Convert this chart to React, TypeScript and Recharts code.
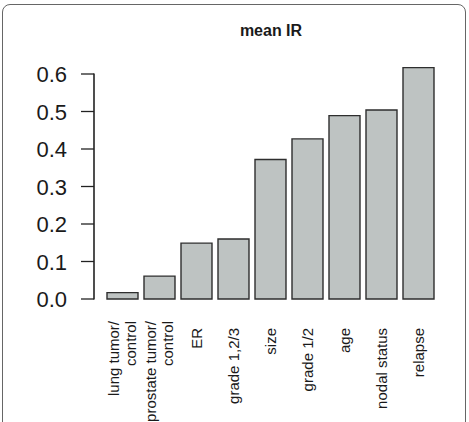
import { BarChart, Bar, XAxis, YAxis } from 'recharts';

const categories = [
  'lung tumor/\ncontrol',
  'prostate tumor/\ncontrol',
  'ER',
  'grade 1,2/3',
  'size',
  'grade 1/2',
  'age',
  'nodal status',
  'relapse',
];
const meanIR = [0.017, 0.061, 0.149, 0.16, 0.372, 0.427, 0.489, 0.504, 0.617];
const yTicks = [0, 0.1, 0.2, 0.3, 0.4, 0.5, 0.6];
const yTickLabels = ['0.0', '0.1', '0.2', '0.3', '0.4', '0.5', '0.6'];

const Y_MAX = 0.64;
const TICK_LEN = 13;
const TICK_GAP = 14;
const CHART_W = 469;
const CHART_H = 422;
const MARGIN = { top: 59, right: 22, bottom: 23, left: 0 };
const X_AXIS_H = 100;
const Y_AXIS_W = 94;
const X_PAD = 10;
const PLOT_H = CHART_H - MARGIN.top - MARGIN.bottom - X_AXIS_H;
const FONT = '"Liberation Sans", Arial, Helvetica, sans-serif';

// R-style y spine only runs from the first to the last tick
const SPINE_X = MARGIN.left + Y_AXIS_W;
const SPINE_TOP = MARGIN.top + ((Y_MAX - yTicks[yTicks.length - 1]) / Y_MAX) * PLOT_H;
const SPINE_BOTTOM = MARGIN.top + ((Y_MAX - yTicks[0]) / Y_MAX) * PLOT_H;

const data = categories.map((name, i) => ({ name, value: meanIR[i] }));

function YTick(props: any) {
  const { x, y, index } = props;
  return (
    <text x={x} y={y} dy={8} textAnchor="end" fontSize={22} fill="#1a1a1a" fontFamily={FONT}>
      {yTickLabels[index]}
    </text>
  );
}

// rotated category labels, multi-line ones split on \n
function XTick(props: any) {
  const { x, y, payload } = props;
  const lines = String(payload.value).split('\n');
  const top = y + (lines.length > 1 ? 22 : 29);
  return (
    <g>
      {lines.map((line, i) => {
        const cx = x + (i - (lines.length - 1) / 2) * 17 + 5;
        return (
          <text
            key={i}
            x={0}
            y={0}
            transform={`translate(${cx},${top}) rotate(-90)`}
            textAnchor="end"
            fontSize={15}
            fill="#1a1a1a"
            fontFamily={FONT}
          >
            {line}
          </text>
        );
      })}
    </g>
  );
}

export default function App() {
  return (
    <div style={{ position: 'absolute', left: 0, top: 0, width: CHART_W, height: CHART_H, overflow: 'hidden', background: '#fff' }}>
      <div
        style={{
          position: 'absolute',
          left: 2,
          top: 4,
          width: 462,
          height: 470,
          border: '1.5px solid #666',
          borderRadius: 8,
        }}
      />
      <div
        style={{
          position: 'absolute',
          left: 0,
          top: 22,
          width: CHART_W,
          textAlign: 'center',
          paddingLeft: 73,
          boxSizing: 'border-box',
          fontFamily: FONT,
          fontWeight: 'bold',
          fontSize: 16,
          color: '#1a1a1a',
        }}
      >
        mean IR
      </div>
      <BarChart
        width={CHART_W}
        height={CHART_H}
        data={data}
        margin={MARGIN}
        style={{ position: 'absolute', left: 0, top: 0 }}
      >
        <XAxis
          dataKey="name"
          interval={0}
          padding={{ left: X_PAD, right: X_PAD }}
          axisLine={false}
          tickLine={false}
          tickSize={0}
          tickMargin={0}
          height={X_AXIS_H}
          tick={<XTick />}
        />
        <YAxis
          domain={[0, Y_MAX]}
          ticks={yTicks}
          width={Y_AXIS_W}
          axisLine={false}
          tickLine={{ stroke: '#222', strokeWidth: 1.3 }}
          tickSize={TICK_LEN}
          tickMargin={TICK_GAP}
          tick={<YTick />}
          interval={0}
        />
        <Bar dataKey="value" barSize={31} fill="#bec3c2" stroke="#2e2e2e" strokeWidth={1.4} isAnimationActive={false} />
      </BarChart>
      <svg
        width={CHART_W}
        height={CHART_H}
        style={{ position: 'absolute', left: 0, top: 0, zIndex: 5, pointerEvents: 'none' }}
      >
        <line x1={SPINE_X} x2={SPINE_X} y1={SPINE_TOP - 0.6} y2={SPINE_BOTTOM + 0.6} stroke="#222" strokeWidth={1.6} />
      </svg>
    </div>
  );
}
